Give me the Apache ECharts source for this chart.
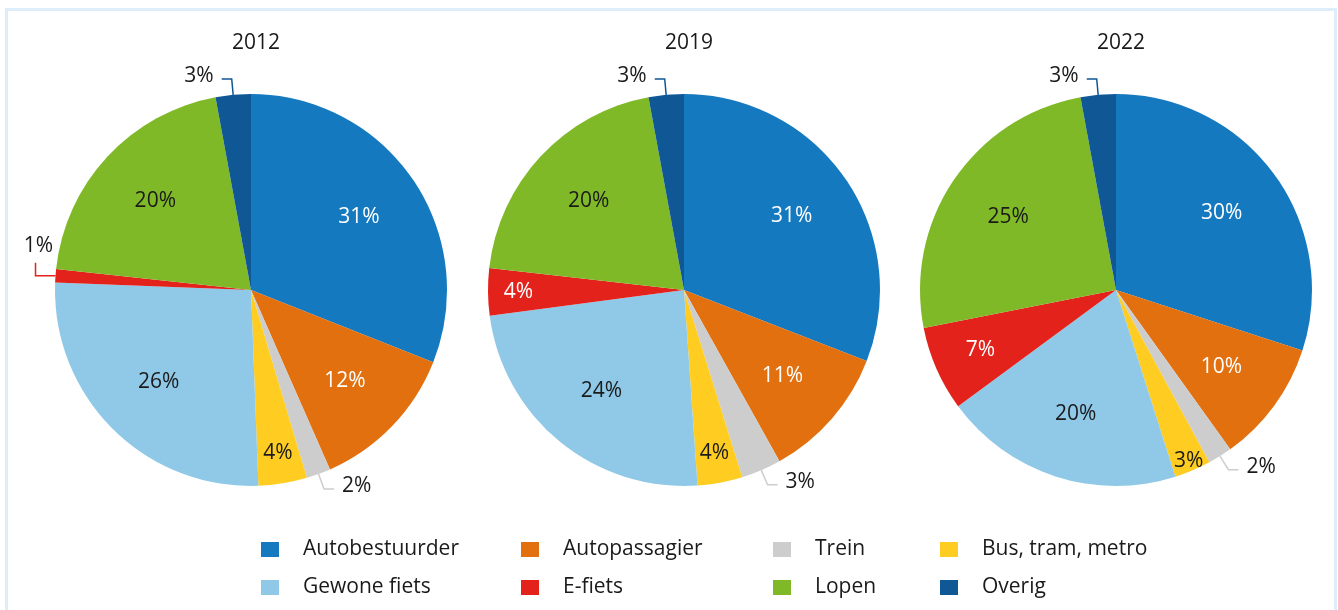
<!DOCTYPE html>
<html>
<head>
<meta charset="utf-8">
<script src="https://cdn.jsdelivr.net/npm/echarts@6/dist/echarts.min.js"></script>
<style>
  html, body { margin: 0; padding: 0; background: #fff; overflow: hidden; }
  #kader { position: absolute; left: 5px; top: 8px; width: 1326px; height: 640px; border: 3px solid #ddedf9; }
  #grafiek { position: absolute; left: 0; top: 0; width: 1338px; height: 610px; }
</style>
</head>
<body>
<div id="kader"></div>
<div id="grafiek"></div>
<script>
const jaren = ['2012', '2019', '2022']
const categorieen = ['Autobestuurder', 'Autopassagier', 'Trein', 'Bus, tram, metro', 'Gewone fiets', 'E-fiets', 'Lopen', 'Overig']
const aandelen2012 = [31.0, 12.4, 2.0, 4.0, 26.2, 1.1, 20.4, 2.9]
const aandelen2019 = [30.9, 11.0, 3.3, 3.7, 24.0, 3.9, 20.3, 2.9]
const aandelen2022 = [30.0, 10.1, 2.0, 3.0, 19.8, 7.0, 25.2, 2.9]

const aandelen = [aandelen2012, aandelen2019, aandelen2022]
const kleuren = ['#1479bf', '#e2700f', '#cdcdcd', '#ffcd21', '#8fc9e7', '#e2221b', '#80b928', '#0f5795']
const witteTekst = ['Autobestuurder', 'Autopassagier', 'E-fiets']
const altijdBuiten = ['Trein', 'Overig']

const middens = [251, 684, 1116]
const straal = 196
const fontFamily = '"Open Sans", "Noto Sans", sans-serif'
const tekstKleur = '#1a1a1a'
const ringen = [0.65, 0.74, 0.83, 0.93]

function labelBuiten(naam, v) {
  return altijdBuiten.includes(naam) || v < 2
}

// labelstraal (fractie van straal) per grootte van het segment
function labelGroep(v) {
  if (v >= 9) return 0.65
  if (v >= 5) return 0.74
  if (v >= 3.5) return 0.83
  return 0.93
}

function opmaak(p) {
  return Math.round(p.value) + '%'
}

// knik in de labellijn als het eerste stuk horizontaal loopt,
// anders het label iets boven de lijn zetten
function knikLayout(p) {
  const pts = p.labelLinePoints
  if (!pts) return {}
  const dx = pts[1][0] - pts[0][0]
  const dy = pts[1][1] - pts[0][1]
  if (Math.abs(dy) > 0.3 * Math.abs(dx)) {
    return {
      labelLinePoints: pts,
      x: p.labelRect.x + p.labelRect.width / 2,
      y: pts[2][1] - 3,
      align: 'center',
      verticalAlign: 'middle'
    }
  }
  const p1 = [pts[0][0] + Math.sign(dx) * 20, pts[0][1]]
  const p2 = [p1[0], p1[1] - 13]
  return {
    labelLinePoints: [pts[0], p1, p2],
    x: p1[0] + 3,
    y: p2[1] - 6,
    align: 'center',
    verticalAlign: 'bottom'
  }
}

const series = []
aandelen.forEach((waarden, i) => {
  // de taart zelf, met buitenlabels voor kleine segmenten
  series.push({
    type: 'pie',
    name: jaren[i],
    center: [middens[i], 290],
    radius: [0, straal],
    startAngle: 90,
    clockwise: true,
    silent: true,
    avoidLabelOverlap: false,
    itemStyle: { borderWidth: 0 },
    label: {
      position: 'outside',
      formatter: opmaak,
      fontSize: 21,
      color: tekstKleur,
      fontFamily,
      distanceToLabelLine: 8
    },
    labelLine: { length: 16, length2: 10, lineStyle: { width: 1.5 } },
    labelLayout: knikLayout,
    data: waarden.map((v, k) => {
      const buiten = labelBuiten(categorieen[k], v)
      return {
        name: categorieen[k],
        value: v,
        itemStyle: { color: kleuren[k] },
        label: { show: buiten },
        labelLine: { show: buiten }
      }
    })
  })
  // onzichtbare ringen die de binnenlabels op de juiste afstand zetten
  ringen.forEach(m => {
    series.push({
      type: 'pie',
      center: [middens[i], 290],
      radius: [Math.round((2 * m - 1) * straal), straal],
      startAngle: 90,
      clockwise: true,
      silent: true,
      avoidLabelOverlap: false,
      itemStyle: { color: 'transparent', borderWidth: 0 },
      label: {
        position: 'inside',
        formatter: opmaak,
        fontSize: 21,
        fontFamily
      },
      labelLine: { show: false },
      data: waarden.map((v, k) => ({
        name: categorieen[k],
        value: v,
        label: {
          show: !labelBuiten(categorieen[k], v) && labelGroep(v) === m,
          color: witteTekst.includes(categorieen[k]) ? '#ffffff' : tekstKleur
        }
      }))
    })
  })
})

const kolommen = [[0, 4], [1, 5], [2, 6], [3, 7]]
const kolomLinks = [261, 521, 773, 940]

const legends = kolommen.map((idx, c) => ({
  orient: 'vertical',
  left: kolomLinks[c],
  top: 539,
  padding: 0,
  itemWidth: 18,
  itemHeight: 15,
  itemGap: 17,
  selectedMode: false,
  icon: 'rect',
  textStyle: { fontSize: 21, color: tekstKleur, fontFamily, padding: [0, 0, 0, 19] },
  data: idx.map(k => ({ name: categorieen[k], itemStyle: { color: kleuren[k] } }))
}))

const chart = echarts.init(document.getElementById('grafiek'))
chart.setOption({
  animation: false,
  backgroundColor: 'transparent',
  title: jaren.map((j, i) => ({
    text: j,
    left: middens[i],
    top: 28,
    textAlign: 'center',
    textStyle: { fontSize: 21, fontWeight: 'normal', color: tekstKleur, fontFamily }
  })),
  legend: legends,
  series
})
</script>
</body>
</html>
